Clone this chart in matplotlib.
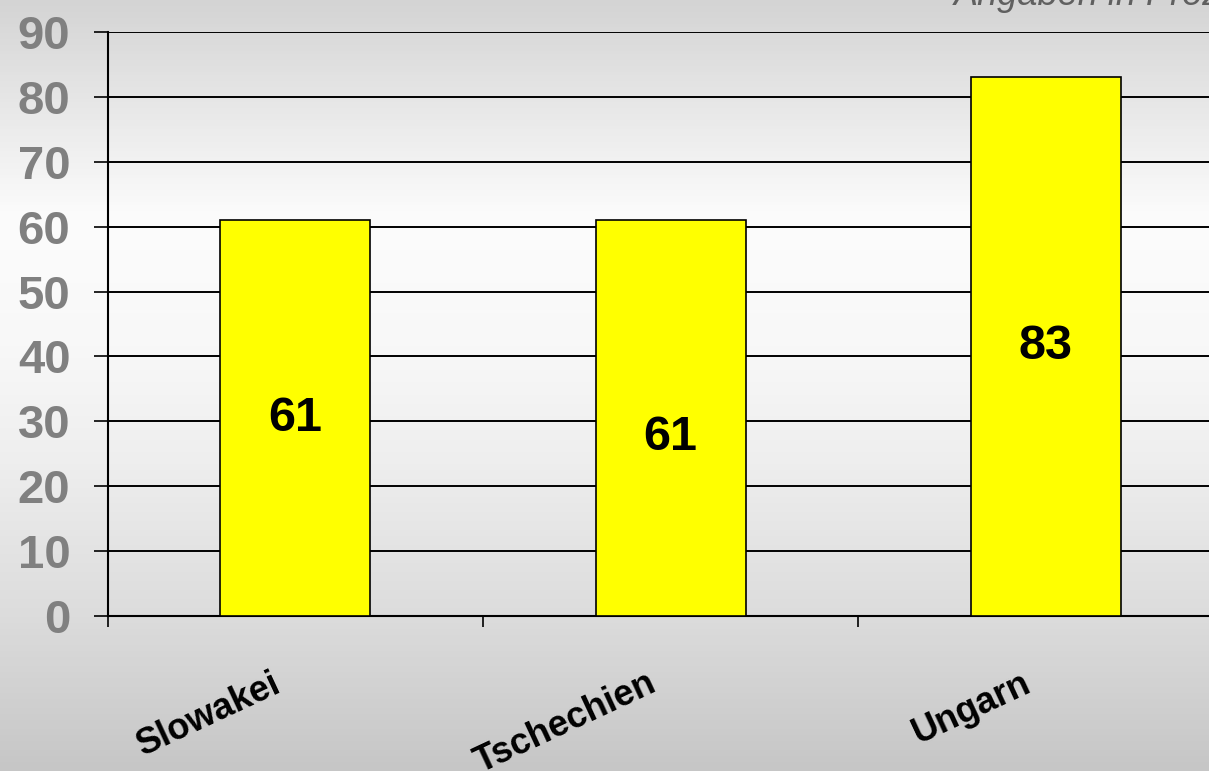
import numpy as np
from matplotlib import pyplot as plt
from matplotlib.colors import LinearSegmentedColormap

categories = ['Slowakei', 'Tschechien', 'Ungarn']
values = [61, 61, 83]
label_offsets = [0, -14, 0]  # in points, nudges of the value labels
yticks = [0, 10, 20, 30, 40, 50, 60, 70, 80, 90]

plt.rcParams['font.family'] = ['Liberation Sans', 'DejaVu Sans']

fig = plt.figure(figsize=(12.09, 7.71), dpi=100)

# background gradient over the whole figure (top to bottom)
bg = fig.add_axes([0, 0, 1, 1], zorder=-10)
cmap = LinearSegmentedColormap.from_list('bg', [
    (0.0, '#d4d4d4'), (0.28, '#fcfcfc'), (0.45, '#f8f8f8'), (0.6, '#eeeeee'),
    (0.73, '#e2e2e2'), (0.8, '#dcdcdc'), (1.0, '#c6c6c6')])
bg.imshow(np.linspace(0, 1, 256).reshape(-1, 1), aspect='auto', cmap=cmap,
          extent=[0, 1, 0, 1])
bg.axis('off')

ax = fig.add_axes([0.0893, 0.201, 0.9306, 0.7575])
ax.patch.set_alpha(0)
x = np.arange(len(categories))
ax.bar(x, values, width=0.4, color='#ffff00', edgecolor='black', linewidth=1.2,
       zorder=3)
for i, v in enumerate(values):
    ax.annotate(str(v), (x[i], v / 2), xytext=(0, label_offsets[i]),
                textcoords='offset points', ha='center', va='center',
                fontsize=35, fontweight='bold', zorder=4)

ax.set_xlim(-0.5, len(categories) - 0.5)
ax.set_ylim(0, 90)
ax.set_yticks(yticks)
ax.yaxis.grid(True, color='black', linewidth=1.4, zorder=1)
ax.set_yticklabels([str(t) for t in yticks])
for lab in ax.get_yticklabels():
    lab.set_fontsize(34)
    lab.set_fontweight('bold')
    lab.set_color('#808080')
ax.tick_params(axis='y', length=10, width=1.2, pad=17)

# category labels, rotated, right end near the bar centre
ax.set_xticks([])
ax.set_xticks(np.arange(len(categories) + 1) - 0.5, minor=True)
ax.tick_params(axis='x', which='minor', length=8, width=1.2, labelbottom=False)
for i, c in enumerate(categories):
    ax.annotate(c, (x[i], 0), xycoords=('data', 'axes fraction'),
                xytext=(-17, -36), textcoords='offset points',
                rotation=25, rotation_mode='anchor', ha='right', va='top',
                fontsize=26, fontweight='bold')

for s in ['top', 'right']:
    ax.spines[s].set_visible(False)
ax.spines['left'].set_linewidth(1.5)
ax.spines['bottom'].set_linewidth(1.5)

fig.text(0.789, 1 - 5 / 771, 'Angaben in Prozent', fontsize=26, style='italic',
         color='#606060', va='baseline', ha='left')

plt.savefig('out.png', dpi=100)
